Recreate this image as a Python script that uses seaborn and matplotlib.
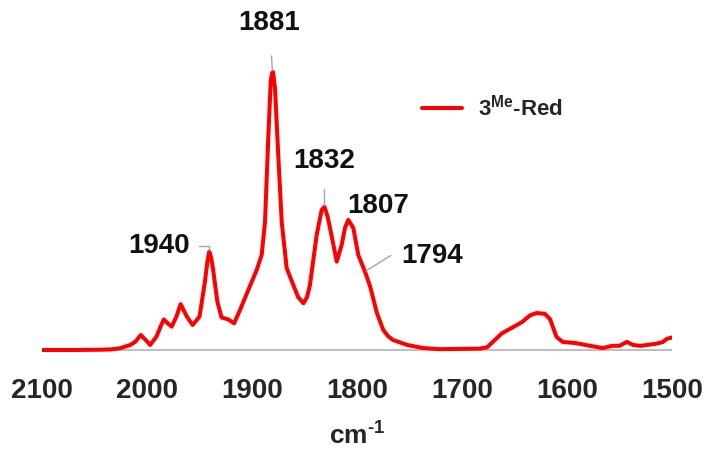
import numpy as np
import pandas as pd
import matplotlib
matplotlib.use("Agg")
import matplotlib.pyplot as plt
import seaborn as sns

# ---- data ----
wavenumber = [2100, 2070, 2045, 2035, 2026, 2016, 2011, 2006, 2001, 1997, 1991, 1987,
              1984, 1980, 1976.5, 1972, 1968, 1962, 1956.5, 1950, 1945, 1942.4, 1940.7, 1938.8,
              1937, 1933, 1929, 1922.6, 1917, 1911.4, 1903.5, 1895.5, 1890.8, 1887.6, 1884.5, 1882.2,
              1881, 1880, 1878.1, 1875, 1871.7, 1867, 1860.7, 1856, 1851, 1847.6, 1844.8, 1838.4,
              1833.6, 1831, 1828, 1825.7, 1819.3, 1814.6, 1811.4, 1808.3, 1803.5, 1798.8, 1792.4, 1787.6,
              1781, 1775, 1770.5, 1765.7, 1752, 1737, 1721, 1702, 1683, 1676,
              1669, 1662, 1651, 1643, 1635, 1629, 1621, 1616, 1610, 1604, 1592, 1578,
              1566, 1557, 1550, 1543, 1537, 1530, 1516, 1509, 1505, 1500]
absorbance = [0.000, 0.000, 0.001, 0.002, 0.006, 0.018, 0.030, 0.054, 0.035, 0.018, 0.048, 0.085,
              0.110, 0.095, 0.084, 0.120, 0.165, 0.120, 0.090, 0.120, 0.241, 0.320, 0.354, 0.330,
              0.288, 0.174, 0.117, 0.110, 0.096, 0.144, 0.216, 0.288, 0.342, 0.461, 0.763, 0.965,
              0.995, 1.000, 0.942, 0.701, 0.461, 0.295, 0.234, 0.190, 0.168, 0.190, 0.234, 0.414,
              0.504, 0.515, 0.480, 0.439, 0.318, 0.378, 0.440, 0.468, 0.439, 0.342, 0.282, 0.230,
              0.133, 0.072, 0.050, 0.036, 0.018, 0.007, 0.003, 0.004, 0.005, 0.010,
              0.035, 0.060, 0.083, 0.100, 0.125, 0.133, 0.130, 0.110, 0.047, 0.029, 0.025, 0.015,
              0.007, 0.015, 0.015, 0.029, 0.018, 0.015, 0.022, 0.028, 0.040, 0.045]
peak_labels = ["1881", "1940", "1832", "1807", "1794"]
peak_pos = [1880.5, 1940.7, 1831, 1808.3, 1792.4]
peak_h = [1.000, 0.354, 0.515, 0.468, 0.282]
x_ticks = [2100, 2000, 1900, 1800, 1700, 1600, 1500]
series_name = r"3$^{\mathbf{Me}}$-Red"

df = pd.DataFrame({"wn": wavenumber, "A": absorbance})

sns.set_theme(style="white")
plt.rcParams["font.family"] = ["Liberation Sans", "DejaVu Sans"]
plt.rcParams["mathtext.fontset"] = "custom"
plt.rcParams["mathtext.rm"] = "Liberation Sans:bold"
plt.rcParams["mathtext.bf"] = "Liberation Sans:bold"
plt.rcParams["mathtext.it"] = "Liberation Sans:italic"

fig = plt.figure(figsize=(7.08, 4.49), dpi=100)
ax = fig.add_axes([42 / 708, 1 - 352 / 449, 630 / 708, 342 / 449])

sns.lineplot(data=df, x="wn", y="A", color="#FF0000", linewidth=2.9, ax=ax,
             label=series_name, sort=False)
for ln in ax.get_lines():
    ln.set_solid_joinstyle("round")
    ln.set_solid_capstyle("round")

ax.axhline(0, color="#BFBFBF", linewidth=1.5, zorder=0)

ax.set_xlim(2100, 1500)
ax.set_ylim(-2 / 278, 340 / 278)
ax.set_xticks(x_ticks)
ax.set_xticklabels([str(t) for t in x_ticks], fontsize=20, fontweight="bold")
ax.tick_params(axis="x", length=0, pad=19)
ax.set_yticks([])
ax.set_ylabel("")
ax.set_xlabel(r"$\mathbf{cm}^{\text{-1}}$", fontsize=19, labelpad=13)
for s in ax.spines.values():
    s.set_visible(False)

px = 0.72  # points per pixel
lead = dict(arrowstyle="-", color="#A6A6A6", lw=1.0, shrinkB=1)
offsets = {
    "1881": dict(off=(-3 * px, 49 * px), conn="arc3", shrinkA=12),
    "1940": dict(off=(-50 * px, 6 * px), conn="angle,angleA=0,angleB=90,rad=0", shrinkA=4),
    "1832": dict(off=(0 * px, 46 * px), conn="arc3", shrinkA=9),
    "1807": dict(off=(30 * px, 14 * px), conn=None, shrinkA=0),
    "1794": dict(off=(67 * px, 16 * px), conn="angle,angleA=0,angleB=32,rad=0", shrinkA=5),
}
for lab, xp, yp in zip(peak_labels, peak_pos, peak_h):
    o = offsets[lab]
    ap = None
    if o["conn"] is not None:
        ap = dict(lead, connectionstyle=o["conn"], shrinkA=o["shrinkA"])
    ax.annotate(lab, xy=(xp, yp), xytext=o["off"], textcoords="offset points",
                ha="center", va="center", fontsize=20, fontweight="bold",
                color="#111111", arrowprops=ap)

leg = ax.legend(loc="center left", bbox_to_anchor=(422 / 708, 1 - 108 / 449),
                bbox_transform=fig.transFigure, frameon=False, borderpad=0,
                borderaxespad=0, handlelength=1.8, handletextpad=0.7,
                prop={"size": 16, "weight": "bold"})

fig.savefig("out.png", dpi=100)
